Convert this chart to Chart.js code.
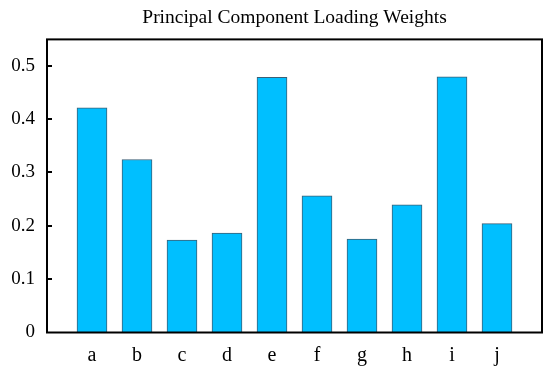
<!DOCTYPE html>
<html>
<head>
<meta charset="utf-8">
<script src="https://cdn.jsdelivr.net/npm/chart.js@4/dist/chart.umd.min.js"></script>
<style>
  html, body { margin: 0; padding: 0; background: #fff; }
  #wrap { width: 550px; height: 372px; }
</style>
</head>
<body>
<div id="wrap"><canvas id="c" width="550" height="372"></canvas></div>
<script>
const categories = ['a', 'b', 'c', 'd', 'e', 'f', 'g', 'h', 'i', 'j'];
const loadings = [0.421, 0.324, 0.173, 0.186, 0.478, 0.256, 0.175, 0.239, 0.479, 0.204];
const yTicks = [0, 0.1, 0.2, 0.3, 0.4, 0.5];
const titleText = 'Principal Component Loading Weights';

const points = categories.map((c, i) => ({ x: i + 1, y: loadings[i] }));

const framePlugin = {
  id: 'frame',
  afterLayout(chart) {
    const t = chart.titleBlock;
    if (t) {
      t.left = chart.chartArea.left;
      t.right = chart.chartArea.right;
    }
  },
  afterDraw(chart) {
    const { ctx, chartArea: a } = chart;
    const ys = chart.scales.y;
    ctx.save();
    ctx.strokeStyle = '#000';
    ctx.lineWidth = 2;
    ctx.strokeRect(a.left, a.top, a.right - a.left, a.bottom - a.top);
    ctx.beginPath();
    yTicks.forEach(v => {
      const py = Math.round(ys.getPixelForValue(v));
      if (v === 0) return;
      ctx.moveTo(a.left, py);
      ctx.lineTo(a.left + 5, py);
    });
    ctx.stroke();
    ctx.restore();
  }
};

new Chart(document.getElementById('c'), {
  type: 'bar',
  data: {
    datasets: [{
      data: points,
      backgroundColor: '#00BFFF',
      borderColor: '#3d5f75',
      borderWidth: 1,
      barThickness: 30
    }]
  },
  options: {
    responsive: false,
    animation: false,
    layout: { padding: { left: 0, right: 8, top: 0, bottom: 0 } },
    plugins: {
      legend: { display: false },
      tooltip: { enabled: false },
      title: {
        display: true,
        text: titleText,
        color: '#000',
        font: { family: 'Liberation Serif', size: 19.5, weight: 'normal' },
        padding: { top: 6, bottom: 10 }
      }
    },
    scales: {
      x: {
        type: 'linear',
        offset: false,
        min: 0,
        max: 11,
        grid: { display: false, drawTicks: false, offset: false },
        border: { display: false },
        afterBuildTicks(scale) {
          scale.ticks = categories.map((c, i) => ({ value: i + 1 }));
        },
        afterFit(scale) { scale.height = 39.5; },
        ticks: {
          autoSkip: false,
          maxRotation: 0,
          padding: 11,
          color: '#000',
          font: { family: 'Liberation Serif', size: 20 },
          callback: (v) => categories[v - 1] || ''
        }
      },
      y: {
        min: 0,
        max: 0.549,
        grid: { display: false, drawTicks: false },
        border: { display: false },
        afterBuildTicks(scale) {
          scale.ticks = yTicks.map(v => ({ value: v }));
        },
        afterFit(scale) { scale.width = 47; },
        ticks: {
          padding: 12,
          color: '#000',
          font: { family: 'Liberation Serif', size: 19 },
          callback: (v) => String(v)
        }
      }
    }
  },
  plugins: [framePlugin]
});
</script>
</body>
</html>
